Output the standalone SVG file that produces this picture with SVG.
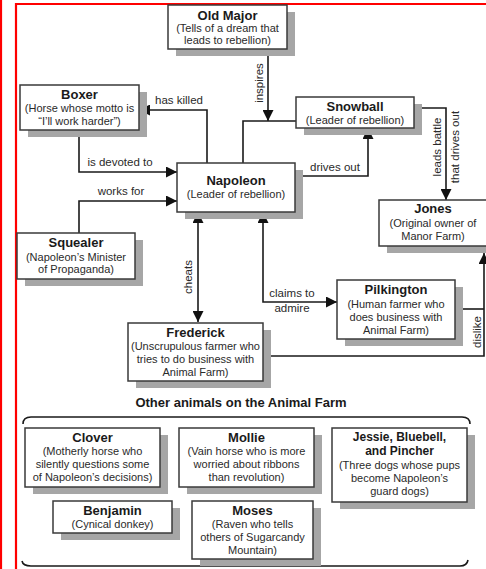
<svg xmlns="http://www.w3.org/2000/svg" width="486" height="569" viewBox="0 0 486 569">
<defs>
<marker id="ah" viewBox="0 0 10 10" refX="10" refY="5" markerWidth="11" markerHeight="11" markerUnits="userSpaceOnUse" orient="auto-start-reverse">
<path d="M0,0 L10,5 L0,10 Z" fill="#111"/>
</marker>
</defs>
<style>
.box{fill:#fff;stroke:#3a3a3a;stroke-width:1.5}
.sh{fill:#a6a6a6}
.t{font-family:"Liberation Sans",Arial,sans-serif;font-weight:bold;font-size:13px;fill:#1a1a1a;text-anchor:middle}
.t2{font-family:"Liberation Sans",Arial,sans-serif;font-weight:bold;font-size:12px;fill:#1a1a1a;text-anchor:middle}
.s{font-family:"Liberation Sans",Arial,sans-serif;font-size:11px;fill:#2a2a2a;text-anchor:middle}
.l{font-family:"Liberation Sans",Arial,sans-serif;font-size:11.5px;fill:#2a2a2a;text-anchor:middle}
.c{fill:none;stroke:#1a1a1a;stroke-width:1.6}
.red{stroke:#ff0000;stroke-width:2.2;fill:none}
</style>
<rect width="486" height="569" fill="#fff"/>
<g id="frame">
<line class="red" x1="1" y1="0" x2="1" y2="569"/>
<line class="red" x1="16" y1="3" x2="16" y2="569"/>
<line class="red" x1="15" y1="4" x2="486" y2="4"/>
</g>
<g id="connectors">
<path class="c" d="M268 49 V121" marker-end="url(#ah)"/>
<path class="c" d="M243 163 V121 H296"/>
<path class="c" d="M207 163 V110 H139" marker-end="url(#ah)"/>
<path class="c" d="M79 130 V172 H177" marker-end="url(#ah)"/>
<path class="c" d="M79 233 V201 H177" marker-end="url(#ah)"/>
<path class="c" d="M295 176 H368 V128" marker-end="url(#ah)"/>
<path class="c" d="M414 108 H446 V200" marker-end="url(#ah)"/>
<path class="c" d="M198 212 V322" marker-start="url(#ah)" marker-end="url(#ah)"/>
<path class="c" d="M263 212 V302 H337" marker-start="url(#ah)" marker-end="url(#ah)"/>
<path class="c" d="M455 309 H484"/>
<path class="c" d="M263 356 H484 V253" marker-end="url(#ah)"/>
<path class="c" d="M23 424 Q23 417 31 417 H462 Q470 417 470 424"/>
<path class="c" d="M22 561 Q23 566 31 566 H460 Q467 566 468 560"/>
</g>
<g id="labels">
<text class="l" x="263" y="83" transform="rotate(-90 263 83)">inspires</text>
<text class="l" x="179" y="104">has killed</text>
<text class="l" x="120" y="166">is devoted to</text>
<text class="l" x="121" y="195">works for</text>
<text class="l" x="335" y="171">drives out</text>
<text class="l" x="441" y="147" transform="rotate(-90 441 147)">leads battle</text>
<text class="l" x="459" y="147" transform="rotate(-90 459 147)">that drives out</text>
<text class="l" x="192" y="277" transform="rotate(-90 192 277)">cheats</text>
<text class="l" x="292" y="297">claims to</text>
<text class="l" x="292" y="312">admire</text>
<text class="l" x="481" y="332" transform="rotate(-90 481 332)">dislike</text>
<text class="t" x="241" y="407">Other animals on the Animal Farm</text>
</g>
<g id="oldmajor">
<rect class="sh" x="176" y="12" width="119" height="44"/>
<rect class="box" x="168" y="5" width="119" height="44"/>
<text class="t" x="227.5" y="20">Old Major</text>
<text class="s" x="227.5" y="32">(Tells of a dream that</text>
<text class="s" x="227.5" y="44">leads to rebellion)</text>
</g>
<g id="boxer">
<rect class="sh" x="28" y="92" width="119" height="45"/>
<rect class="box" x="20" y="85" width="119" height="45"/>
<text class="t" x="79.5" y="99">Boxer</text>
<text class="s" x="79.5" y="112">(Horse whose motto is</text>
<text class="s" x="79.5" y="125">“I’ll work harder”)</text>
</g>
<g id="napoleon">
<rect class="sh" x="185" y="170" width="118" height="49"/>
<rect class="box" x="177" y="163" width="118" height="49"/>
<text class="t" x="236" y="185">Napoleon</text>
<text class="s" x="236" y="198">(Leader of rebellion)</text>
</g>
<g id="snowball">
<rect class="sh" x="304" y="104" width="118" height="31"/>
<rect class="box" x="296" y="97" width="118" height="31"/>
<text class="t" x="355" y="111">Snowball</text>
<text class="s" x="355" y="124">(Leader of rebellion)</text>
</g>
<g id="squealer">
<rect class="sh" x="25" y="240" width="118" height="46"/>
<rect class="box" x="17" y="233" width="118" height="46"/>
<text class="t" x="76" y="247">Squealer</text>
<text class="s" x="76" y="261">(Napoleon’s Minister</text>
<text class="s" x="76" y="273">of Propaganda)</text>
</g>
<g id="jones">
<rect class="sh" x="387" y="207" width="120" height="46"/>
<rect class="box" x="379" y="200" width="120" height="46"/>
<text class="t" x="433" y="213">Jones</text>
<text class="s" x="433" y="227">(Original owner of</text>
<text class="s" x="433" y="240">Manor Farm)</text>
</g>
<g id="pilkington">
<rect class="sh" x="345" y="287" width="118" height="59"/>
<rect class="box" x="337" y="280" width="118" height="59"/>
<text class="t" x="396" y="294">Pilkington</text>
<text class="s" x="396" y="308">(Human farmer who</text>
<text class="s" x="396" y="321">does business with</text>
<text class="s" x="396" y="334">Animal Farm)</text>
</g>
<g id="frederick">
<rect class="sh" x="136" y="330" width="135" height="58"/>
<rect class="box" x="128" y="323" width="135" height="58"/>
<text class="t" x="195.5" y="337">Frederick</text>
<text class="s" x="195.5" y="350">(Unscrupulous farmer who</text>
<text class="s" x="195.5" y="363">tries to do business with</text>
<text class="s" x="195.5" y="376">Animal Farm)</text>
</g>
<g id="clover">
<rect class="sh" x="33" y="435" width="135" height="59"/>
<rect class="box" x="25" y="428" width="135" height="59"/>
<text class="t" x="92.5" y="442">Clover</text>
<text class="s" x="92.5" y="455">(Motherly horse who</text>
<text class="s" x="92.5" y="468">silently questions some</text>
<text class="s" x="92.5" y="481">of Napoleon’s decisions)</text>
</g>
<g id="mollie">
<rect class="sh" x="187" y="435" width="135" height="59"/>
<rect class="box" x="179" y="428" width="135" height="59"/>
<text class="t" x="246.5" y="442">Mollie</text>
<text class="s" x="246.5" y="455">(Vain horse who is more</text>
<text class="s" x="246.5" y="468">worried about ribbons</text>
<text class="s" x="246.5" y="481">than revolution)</text>
</g>
<g id="jessie">
<rect class="sh" x="340" y="435" width="135" height="74"/>
<rect class="box" x="332" y="428" width="135" height="74"/>
<text class="t2" x="399.5" y="441">Jessie, Bluebell,</text>
<text class="t2" x="399.5" y="455">and Pincher</text>
<text class="s" x="399.5" y="469">(Three dogs whose pups</text>
<text class="s" x="399.5" y="482">become Napoleon’s</text>
<text class="s" x="399.5" y="495">guard dogs)</text>
</g>
<g id="benjamin">
<rect class="sh" x="61" y="508" width="119" height="32"/>
<rect class="box" x="53" y="501" width="119" height="32"/>
<text class="t" x="112.5" y="515">Benjamin</text>
<text class="s" x="112.5" y="528">(Cynical donkey)</text>
</g>
<g id="moses">
<rect class="sh" x="200" y="508" width="121" height="58"/>
<rect class="box" x="192" y="501" width="121" height="58"/>
<text class="t" x="252.5" y="515">Moses</text>
<text class="s" x="252.5" y="528">(Raven who tells</text>
<text class="s" x="252.5" y="541">others of Sugarcandy</text>
<text class="s" x="252.5" y="554">Mountain)</text>
</g>
</svg>
